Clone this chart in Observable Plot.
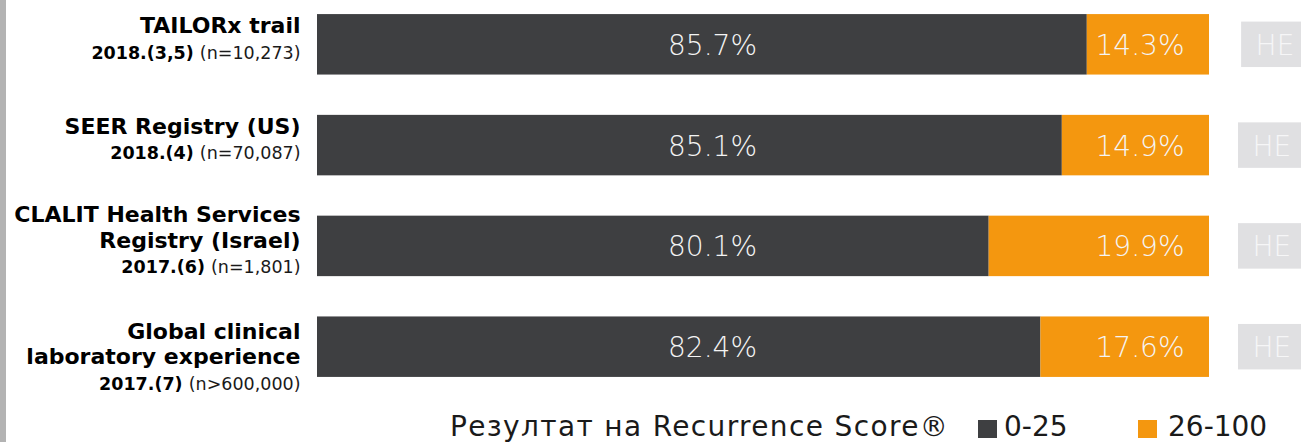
<!DOCTYPE html>
<html>
<head>
<meta charset="utf-8">
<script src="https://cdn.jsdelivr.net/npm/d3@7"></script>
<script src="https://cdn.jsdelivr.net/npm/@observablehq/plot@0.6"></script>
<style>
  html, body { margin: 0; padding: 0; background: #fff; overflow: hidden; }
  #wrap { position: relative; width: 1301px; height: 442px; overflow: hidden; }
  #strip { position: absolute; left: 0; top: 0; width: 6px; height: 442px; background: #b3b3b3; }
  #chart { position: absolute; left: 0; top: 0; }
  .lg { position: absolute; font-family: "DejaVu Sans", sans-serif; font-weight: 400; font-size: 28px; color: #1a1a1a; line-height: 28px; top: 413px; white-space: nowrap; }
  .sw { position: absolute; width: 19px; height: 18px; top: 420px; }
</style>
</head>
<body>
<div id="wrap">
  <div id="chart"></div>
  <div id="strip"></div>
  <div class="lg" id="lgTitle" style="left:450px; letter-spacing:1.35px"></div>
  <div class="sw" id="sw0" style="left:978px"></div>
  <div class="lg" id="lg0" style="left:1004px"></div>
  <div class="sw" id="sw1" style="left:1138px"></div>
  <div class="lg" id="lg1" style="left:1168px"></div>
</div>
<script>
// ---- data ----
const studies = ["TAILORx trail", "SEER Registry (US)", "CLALIT Health Services\nRegistry (Israel)", "Global clinical\nlaboratory experience"];
const years = ["2018.(3,5)", "2018.(4)", "2017.(6)", "2017.(7)"];
const sampleSizes = ["(n=10,273)", "(n=70,087)", "(n=1,801)", "(n>600,000)"];
const lowLabels = ["85.7%", "85.1%", "80.1%", "82.4%"];
const highLabels = ["14.3%", "14.9%", "19.9%", "17.6%"];
// bar lengths as drawn in the picture (share of the 0-100 bar)
const lowShare = [86.3, 83.5, 75.3, 81.1];
// the grey "НЕ" box after the bar: gap, then its width (runs off the edge)
const neGap = [3.6, 3.25, 3.25, 3.25];
const neWidth = [8, 8, 8, 8];
const neLabel = "НЕ";
const legendTitle = "Резултат на Recurrence Score®";
const seriesNames = ["0-25", "26-100"];
const colors = ["#3e3f41", "#f4970f"];
const neColor = "#e0e0e2";

// ---- table ----
const rows = studies.map((s, i) => ({
  i, key: "r" + i,
  label: s + "\n" + years[i] + " " + sampleSizes[i],
  low: lowShare[i],
  lowLabel: lowLabels[i],
  highLabel: highLabels[i],
  neStart: 100 + neGap[i],
  neEnd: 100 + neGap[i] + neWidth[i]
}));

const light = "\"DejaVu Sans\", sans-serif";

const plot = Plot.plot({
  width: 1301,
  height: 402,
  marginLeft: 317,
  marginRight: 92,
  marginTop: 4,
  marginBottom: 15,
  x: { domain: [0, 100], axis: null },
  y: { type: "band", domain: rows.map(d => d.key), paddingInner: 0.4, paddingOuter: 0.1, round: false, axis: null },
  marks: [
    Plot.barX(rows, { y: "key", x1: 0, x2: "low", fill: colors[0] }),
    Plot.barX(rows, { y: "key", x1: "low", x2: 100, fill: colors[1] }),
    Plot.barX(rows, { y: "key", x1: "neStart", x2: "neEnd", fill: neColor, insetTop: 7.5, insetBottom: 7.5 }),
    Plot.text(rows, { y: "key", text: "lowLabel", frameAnchor: "middle", dx: -51, dy: 1, fill: "#f4f4f4", fontSize: 28, fontWeight: 200, fontFamily: light }),
    Plot.text(rows, { y: "key", text: "highLabel", frameAnchor: "right", textAnchor: "end", dx: -25, dy: 1, fill: "#f4f4f4", fontSize: 28, fontWeight: 200, fontFamily: light }),
    Plot.text(rows, { y: "key", x: "neStart", text: () => neLabel, textAnchor: "start", dx: 14, dy: 1, fill: "#f6f6f7", fontSize: 28, fontWeight: 200, fontFamily: light }),
    Plot.text(rows.filter(d => d.i < 3), { y: "key", text: "label", frameAnchor: "left", textAnchor: "end", dx: -17, dy: -7, lineHeight: 1.15, fill: "#000", fontSize: 22, fontWeight: "bold", fontFamily: "\"DejaVu Sans\", sans-serif" }),
    Plot.text(rows.filter(d => d.i === 3), { y: "key", text: "label", frameAnchor: "left", textAnchor: "end", dx: -17, dy: 9, lineHeight: 1.15, fill: "#000", fontSize: 22, fontWeight: "bold", fontFamily: "\"DejaVu Sans\", sans-serif" })
  ]
});
document.getElementById("chart").appendChild(plot);

// split the last line of each label into bold year + regular sample size
const ns = "http://www.w3.org/2000/svg";
d3.select(plot).selectAll("tspan").each(function () {
  const t = this.textContent;
  const idx = years.findIndex((y, i) => t === y + " " + sampleSizes[i]);
  if (idx < 0) return;
  this.textContent = "";
  const a = document.createElementNS(ns, "tspan");
  a.setAttribute("font-size", "17.5");
  a.setAttribute("font-weight", "bold");
  a.textContent = years[idx] + " ";
  const b = document.createElementNS(ns, "tspan");
  b.setAttribute("font-size", "17.5");
  b.setAttribute("font-weight", "normal");
  b.setAttribute("fill", "#1a1a1a");
  b.textContent = sampleSizes[idx];
  this.appendChild(a);
  this.appendChild(b);
});

// legend
document.getElementById("lgTitle").textContent = legendTitle;
document.getElementById("lg0").textContent = seriesNames[0];
document.getElementById("lg1").textContent = seriesNames[1];
document.getElementById("sw0").style.background = colors[0];
document.getElementById("sw1").style.background = colors[1];
</script>
</body>
</html>
